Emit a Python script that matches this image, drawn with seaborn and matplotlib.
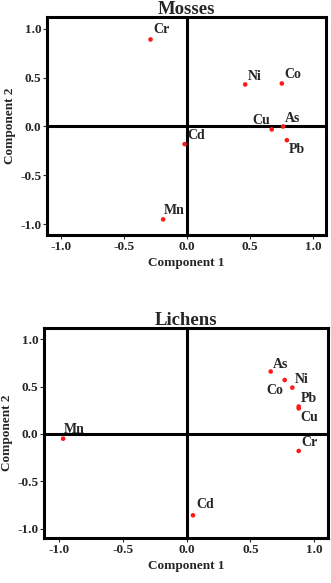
import numpy as np
import pandas as pd
import matplotlib.pyplot as plt
import seaborn as sns

moss_elem = ['Cr', 'Ni', 'Co', 'Cu', 'As', 'Pb', 'Cd', 'Mn']
moss_c1 = [-0.29, 0.46, 0.75, 0.67, 0.76, 0.79, -0.02, -0.19]
moss_c2 = [0.89, 0.43, 0.44, -0.03, 0.00, -0.14, -0.18, -0.95]

lich_elem = ['As', 'Co', 'Ni', 'Pb', 'Cu', 'Mn', 'Cr', 'Cd']
lich_c1 = [0.66, 0.77, 0.83, 0.88, 0.88, -0.97, 0.88, 0.05]
lich_c2 = [0.66, 0.57, 0.49, 0.29, 0.27, -0.05, -0.18, -0.86]

# label offsets in pixels (dx, dy, ha, va)
moss_off = {'Cr': (3, 6, 'left', 'baseline'), 'Ni': (3, 4, 'left', 'baseline'),
            'Co': (3, 5, 'left', 'baseline'), 'Cu': (-2, 5, 'right', 'baseline'),
            'As': (2, 4, 'left', 'baseline'), 'Pb': (2, -3, 'left', 'top'),
            'Cd': (3, 5, 'left', 'baseline'), 'Mn': (1, 5, 'left', 'baseline')}
lich_off = {'As': (2, 4, 'left', 'baseline'), 'Co': (-1, -4, 'right', 'top'),
            'Ni': (2, 5, 'left', 'baseline'), 'Pb': (2, 5, 'left', 'baseline'),
            'Cu': (2, -3, 'left', 'top'), 'Mn': (1, 6, 'left', 'baseline'),
            'Cr': (3, 5, 'left', 'baseline'), 'Cd': (3, 7, 'left', 'baseline')}

sns.set_style('white')
plt.rcParams['font.family'] = ['Liberation Serif', 'DejaVu Serif']
plt.rcParams['font.weight'] = 'bold'

fig = plt.figure(figsize=(3.31, 5.83), dpi=100)
ax1 = fig.add_axes([47/331, 1-235/583, 279/331, 218/583])
ax2 = fig.add_axes([44/331, 1-538/583, 284/331, 210/583])


def draw(ax, elem, c1, c2, offs, title):
    df = pd.DataFrame({'Component 1': c1, 'Component 2': c2, 'el': elem})
    ax.axhline(0, color='black', lw=2.2, zorder=1)
    ax.axvline(0, color='black', lw=2.2, zorder=1)
    sns.scatterplot(data=df, x='Component 1', y='Component 2', ax=ax,
                    color='#ff1a1a', s=11, edgecolor='none', zorder=3)
    for _, r in df.iterrows():
        dx, dy, ha, va = offs[r['el']]
        ax.annotate(r['el'], (r['Component 1'], r['Component 2']),
                    xytext=(dx, dy), textcoords='offset pixels',
                    ha=ha, va=va, fontsize=10, fontweight='bold')
    ax.set_xlim(-1.11, 1.10)
    ax.set_ylim(-1.11, 1.12)
    ax.set_xticks([-1.0, -0.5, 0.0, 0.5, 1.0])
    ax.set_yticks([-1.0, -0.5, 0.0, 0.5, 1.0])
    ax.set_xticklabels(['-1.0', '-0.5', '0.0', '0.5', '1.0'])
    ax.set_yticklabels(['-1.0', '-0.5', '0.0', '0.5', '1.0'])
    for s in ax.spines.values():
        s.set_linewidth(2.2)
        s.set_color('black')
    ax.tick_params(axis='both', direction='out', length=3, width=0.8,
                   labelsize=9.5, pad=1, left=True, bottom=True)
    for lab in ax.get_xticklabels() + ax.get_yticklabels():
        lab.set_fontweight('bold')
    ax.set_xlabel('Component 1', fontsize=9.5, fontweight='bold', labelpad=3)
    ax.set_ylabel('Component 2', fontsize=9.5, fontweight='bold', labelpad=3)
    ax.set_title(title, fontsize=13.5, fontweight='bold', pad=2)


draw(ax1, moss_elem, moss_c1, moss_c2, moss_off, 'Mosses')
draw(ax2, lich_elem, lich_c1, lich_c2, lich_off, 'Lichens')
ax2.set_xlim(-1.12, 1.11)
ax2.set_ylim(-1.10, 1.12)

fig.savefig('out.png', dpi=100)
